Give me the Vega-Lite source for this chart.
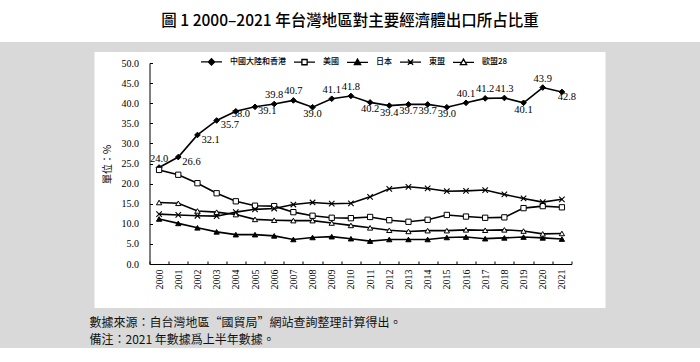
{
  "$schema": "https://vega.github.io/schema/vega-lite/v6.json",
  "background": "#d9d9d9",
  "padding": {"left": 0, "right": 0, "top": 0, "bottom": 2},
  "spacing": 10,
  "bounds": "flush",
  "center": true,
  "config": {
    "view": {"stroke": null},
    "axis": {"grid": false, "domainColor": "black", "tickColor": "black", "labelColor": "black", "titleColor": "black"}
  },
  "datasets": {
    "main": [
      {"y": "2000", "s": "中國大陸和香港", "v": 24.0}, {"y": "2001", "s": "中國大陸和香港", "v": 26.6}, {"y": "2002", "s": "中國大陸和香港", "v": 32.1}, {"y": "2003", "s": "中國大陸和香港", "v": 35.7}, {"y": "2004", "s": "中國大陸和香港", "v": 38.0}, {"y": "2005", "s": "中國大陸和香港", "v": 39.1}, {"y": "2006", "s": "中國大陸和香港", "v": 39.8}, {"y": "2007", "s": "中國大陸和香港", "v": 40.7}, {"y": "2008", "s": "中國大陸和香港", "v": 39.0}, {"y": "2009", "s": "中國大陸和香港", "v": 41.1}, {"y": "2010", "s": "中國大陸和香港", "v": 41.8}, {"y": "2011", "s": "中國大陸和香港", "v": 40.2}, {"y": "2012", "s": "中國大陸和香港", "v": 39.4}, {"y": "2013", "s": "中國大陸和香港", "v": 39.7}, {"y": "2014", "s": "中國大陸和香港", "v": 39.7}, {"y": "2015", "s": "中國大陸和香港", "v": 39.0}, {"y": "2016", "s": "中國大陸和香港", "v": 40.1}, {"y": "2017", "s": "中國大陸和香港", "v": 41.2}, {"y": "2018", "s": "中國大陸和香港", "v": 41.3}, {"y": "2019", "s": "中國大陸和香港", "v": 40.1}, {"y": "2020", "s": "中國大陸和香港", "v": 43.9}, {"y": "2021", "s": "中國大陸和香港", "v": 42.8},
      {"y": "2000", "s": "美國", "v": 23.4}, {"y": "2001", "s": "美國", "v": 22.2}, {"y": "2002", "s": "美國", "v": 20.1}, {"y": "2003", "s": "美國", "v": 17.6}, {"y": "2004", "s": "美國", "v": 15.6}, {"y": "2005", "s": "美國", "v": 14.5}, {"y": "2006", "s": "美國", "v": 14.4}, {"y": "2007", "s": "美國", "v": 12.9}, {"y": "2008", "s": "美國", "v": 12.0}, {"y": "2009", "s": "美國", "v": 11.5}, {"y": "2010", "s": "美國", "v": 11.4}, {"y": "2011", "s": "美國", "v": 11.7}, {"y": "2012", "s": "美國", "v": 10.9}, {"y": "2013", "s": "美國", "v": 10.5}, {"y": "2014", "s": "美國", "v": 11.0}, {"y": "2015", "s": "美國", "v": 12.2}, {"y": "2016", "s": "美國", "v": 11.8}, {"y": "2017", "s": "美國", "v": 11.5}, {"y": "2018", "s": "美國", "v": 11.6}, {"y": "2019", "s": "美國", "v": 13.9}, {"y": "2020", "s": "美國", "v": 14.4}, {"y": "2021", "s": "美國", "v": 14.1},
      {"y": "2000", "s": "日本", "v": 11.2}, {"y": "2001", "s": "日本", "v": 10.1}, {"y": "2002", "s": "日本", "v": 9.0}, {"y": "2003", "s": "日本", "v": 8.0}, {"y": "2004", "s": "日本", "v": 7.3}, {"y": "2005", "s": "日本", "v": 7.3}, {"y": "2006", "s": "日本", "v": 7.0}, {"y": "2007", "s": "日本", "v": 6.1}, {"y": "2008", "s": "日本", "v": 6.6}, {"y": "2009", "s": "日本", "v": 6.8}, {"y": "2010", "s": "日本", "v": 6.3}, {"y": "2011", "s": "日本", "v": 5.7}, {"y": "2012", "s": "日本", "v": 6.1}, {"y": "2013", "s": "日本", "v": 6.1}, {"y": "2014", "s": "日本", "v": 6.1}, {"y": "2015", "s": "日本", "v": 6.6}, {"y": "2016", "s": "日本", "v": 6.7}, {"y": "2017", "s": "日本", "v": 6.3}, {"y": "2018", "s": "日本", "v": 6.5}, {"y": "2019", "s": "日本", "v": 6.7}, {"y": "2020", "s": "日本", "v": 6.5}, {"y": "2021", "s": "日本", "v": 6.2},
      {"y": "2000", "s": "東盟", "v": 12.4}, {"y": "2001", "s": "東盟", "v": 12.2}, {"y": "2002", "s": "東盟", "v": 12.0}, {"y": "2003", "s": "東盟", "v": 11.9}, {"y": "2004", "s": "東盟", "v": 12.9}, {"y": "2005", "s": "東盟", "v": 13.6}, {"y": "2006", "s": "東盟", "v": 13.8}, {"y": "2007", "s": "東盟", "v": 14.8}, {"y": "2008", "s": "東盟", "v": 15.3}, {"y": "2009", "s": "東盟", "v": 15.0}, {"y": "2010", "s": "東盟", "v": 15.1}, {"y": "2011", "s": "東盟", "v": 16.7}, {"y": "2012", "s": "東盟", "v": 18.7}, {"y": "2013", "s": "東盟", "v": 19.2}, {"y": "2014", "s": "東盟", "v": 18.8}, {"y": "2015", "s": "東盟", "v": 18.1}, {"y": "2016", "s": "東盟", "v": 18.2}, {"y": "2017", "s": "東盟", "v": 18.4}, {"y": "2018", "s": "東盟", "v": 17.3}, {"y": "2019", "s": "東盟", "v": 16.3}, {"y": "2020", "s": "東盟", "v": 15.4}, {"y": "2021", "s": "東盟", "v": 16.1},
      {"y": "2000", "s": "歐盟28", "v": 15.3}, {"y": "2001", "s": "歐盟28", "v": 15.1}, {"y": "2002", "s": "歐盟28", "v": 13.2}, {"y": "2003", "s": "歐盟28", "v": 12.9}, {"y": "2004", "s": "歐盟28", "v": 12.3}, {"y": "2005", "s": "歐盟28", "v": 11.1}, {"y": "2006", "s": "歐盟28", "v": 10.9}, {"y": "2007", "s": "歐盟28", "v": 10.8}, {"y": "2008", "s": "歐盟28", "v": 10.8}, {"y": "2009", "s": "歐盟28", "v": 10.2}, {"y": "2010", "s": "歐盟28", "v": 9.6}, {"y": "2011", "s": "歐盟28", "v": 9.0}, {"y": "2012", "s": "歐盟28", "v": 8.4}, {"y": "2013", "s": "歐盟28", "v": 8.1}, {"y": "2014", "s": "歐盟28", "v": 8.3}, {"y": "2015", "s": "歐盟28", "v": 8.3}, {"y": "2016", "s": "歐盟28", "v": 8.5}, {"y": "2017", "s": "歐盟28", "v": 8.4}, {"y": "2018", "s": "歐盟28", "v": 8.5}, {"y": "2019", "s": "歐盟28", "v": 8.2}, {"y": "2020", "s": "歐盟28", "v": 7.5}, {"y": "2021", "s": "歐盟28", "v": 7.6}
    ]
  },
  "vconcat": [
    {
      "width": 700,
      "height": 42,
      "view": {"fill": "white", "stroke": null},
      "data": {"values": [{"t": "圖 1 2000–2021 年台灣地區對主要經濟體出口所占比重"}]},
      "mark": {"type": "text", "font": "Noto Sans CJK TC", "fontSize": 15.5, "fontWeight": 500, "color": "black"},
      "encoding": {"text": {"field": "t", "type": "nominal"}}
    },
    {
      "width": 511,
      "height": 256,
      "view": {"fill": "white", "stroke": null},
      "data": {"name": "main"},
      "title": {
        "text": ["數據來源：自台灣地區“國貿局”網站查詢整理計算得出。", "備注：2021 年數據爲上半年數據。"],
        "orient": "bottom", "anchor": "start", "font": "Noto Sans CJK TC", "fontSize": 12, "fontWeight": "normal",
        "lineHeight": 17, "offset": 10, "baseline": "top", "color": "#111111"
      },
      "encoding": {
        "x": {
          "field": "y", "type": "ordinal",
          "scale": {"type": "band", "range": [55, 477], "paddingInner": 0, "paddingOuter": 0},
          "axis": {
            "title": null, "labelAngle": -90, "labelAlign": "right", "labelBaseline": "middle",
            "labelFont": "Liberation Serif", "labelFontSize": 10, "tickBand": "extent",
            "tickSize": -3, "offset": -44, "labelPadding": 8
          }
        },
        "y": {
          "field": "v", "type": "quantitative",
          "scale": {"domain": [0, 50], "range": [212, 11], "nice": false, "zero": true},
          "axis": {
            "title": "單位：%", "values": [0, 5, 10, 15, 20, 25, 30, 35, 40, 45, 50], "format": ".1f",
            "tickSize": -3, "offset": -55, "labelPadding": 14,
            "labelFont": "Liberation Serif", "labelFontSize": 10,
            "titleFont": "Noto Sans CJK TC", "titleFontSize": 10, "titleFontWeight": "normal",
            "titleAngle": -90, "titleX": -42, "titleY": 112, "titleAlign": "center", "titleBaseline": "middle"
          }
        }
      },
      "layer": [
        {
          "mark": {"type": "line", "color": "black", "strokeWidth": 1.6},
          "encoding": {"detail": {"field": "s", "type": "nominal"}}
        },
        {
          "transform": [{"filter": {"field": "s", "equal": "中國大陸和香港"}}],
          "mark": {"type": "point", "shape": "diamond", "filled": true, "fill": "black", "stroke": "black", "strokeWidth": 1, "size": 32, "opacity": 1}
        },
        {
          "transform": [{"filter": {"field": "s", "equal": "美國"}}],
          "mark": {"type": "point", "shape": "square", "filled": true, "fill": "white", "stroke": "black", "strokeWidth": 1, "size": 28, "opacity": 1}
        },
        {
          "transform": [{"filter": {"field": "s", "equal": "日本"}}],
          "mark": {"type": "point", "shape": "triangle-up", "filled": true, "fill": "black", "stroke": "black", "strokeWidth": 1, "size": 28, "opacity": 1}
        },
        {
          "transform": [{"filter": {"field": "s", "equal": "東盟"}}],
          "mark": {"type": "point", "shape": "M-1,-1L1,1M-1,1L1,-1", "filled": false, "stroke": "black", "strokeWidth": 1.1, "size": 30, "opacity": 1}
        },
        {
          "transform": [{"filter": {"field": "s", "equal": "歐盟28"}}],
          "mark": {"type": "point", "shape": "triangle-up", "filled": true, "fill": "white", "stroke": "black", "strokeWidth": 1, "size": 28, "opacity": 1}
        },
        {
          "transform": [{"filter": "datum.v < 0"}],
          "mark": {"type": "point", "filled": true, "strokeWidth": 1.3, "size": 441, "opacity": 1},
          "encoding": {
            "shape": {
              "field": "s", "type": "nominal",
              "scale": {
                "domain": ["中國大陸和香港", "美國", "日本", "東盟", "歐盟28"],
                "range": [
                  "M-1,0H1M0,-0.3L0.3,0L0,0.3L-0.3,0Z",
                  "M-1,0H-0.25M0.25,0H1M-0.25,-0.25H0.25V0.25H-0.25Z",
                  "M-1,0H1M0,-0.3L0.3,0.22L-0.3,0.22Z",
                  "M-1,0H1M-0.25,-0.25L0.25,0.25M-0.25,0.25L0.25,-0.25",
                  "M-1,0H-0.17M0.17,0H1M0,-0.3L0.3,0.22L-0.3,0.22Z"
                ]
              },
              "legend": {
                "title": null, "orient": "none", "legendX": 200, "legendY": 50, "direction": "horizontal", "padding": 0,
                "labelFont": "Noto Sans CJK TC", "labelFontSize": 8, "labelFontWeight": 500, "labelColor": "black",
                "labelOffset": 7, "columnPadding": 5, "symbolSize": 441, "symbolStrokeWidth": 1.3
              }
            },
            "fill": {
              "field": "s", "type": "nominal",
              "scale": {"domain": ["中國大陸和香港", "美國", "日本", "東盟", "歐盟28"], "range": ["black", "white", "black", "white", "white"]},
              "legend": {
                "title": null, "orient": "none", "legendX": 200, "legendY": 50, "direction": "horizontal", "padding": 0,
                "labelFont": "Noto Sans CJK TC", "labelFontSize": 8, "labelFontWeight": 500, "labelColor": "black",
                "labelOffset": 7, "columnPadding": 5, "symbolSize": 441, "symbolStrokeWidth": 1.3
              }
            },
            "stroke": {
              "field": "s", "type": "nominal",
              "scale": {"domain": ["中國大陸和香港", "美國", "日本", "東盟", "歐盟28"], "range": ["black", "black", "black", "black", "black"]},
              "legend": {
                "title": null, "orient": "none", "legendX": 200, "legendY": 50, "direction": "horizontal", "padding": 0,
                "labelFont": "Noto Sans CJK TC", "labelFontSize": 8, "labelFontWeight": 500, "labelColor": "black",
                "labelOffset": 7, "columnPadding": 5, "symbolSize": 441, "symbolStrokeWidth": 1.3
              }
            }
          }
        },
        {
          "transform": [{"filter": {"field": "s", "equal": "中國大陸和香港"}}, {"filter": {"field": "y", "oneOf": ["2000", "2006", "2007", "2009", "2010", "2016", "2017", "2018", "2020"]}}],
          "mark": {"type": "text", "font": "Liberation Serif", "fontSize": 10.5, "color": "black", "baseline": "bottom", "dy": -4},
          "encoding": {"text": {"field": "v", "type": "quantitative", "format": ".1f"}}
        },
        {
          "transform": [{"filter": {"field": "s", "equal": "中國大陸和香港"}}, {"filter": {"field": "y", "oneOf": ["2008", "2011", "2012", "2013", "2014", "2015", "2019"]}}],
          "mark": {"type": "text", "font": "Liberation Serif", "fontSize": 10.5, "color": "black", "baseline": "top", "dy": 2},
          "encoding": {"text": {"field": "v", "type": "quantitative", "format": ".1f"}}
        },
        {
          "transform": [{"filter": {"field": "s", "equal": "中國大陸和香港"}}, {"filter": {"field": "y", "oneOf": ["2004"]}}],
          "mark": {"type": "text", "font": "Liberation Serif", "fontSize": 10.5, "color": "black", "baseline": "top", "dx": 5, "dy": -2},
          "encoding": {"text": {"field": "v", "type": "quantitative", "format": ".1f"}}
        },
        {
          "transform": [{"filter": {"field": "s", "equal": "中國大陸和香港"}}, {"filter": {"field": "y", "oneOf": ["2001", "2002", "2003"]}}],
          "mark": {"type": "text", "font": "Liberation Serif", "fontSize": 10.5, "color": "black", "align": "left", "baseline": "middle", "dx": 4, "dy": 5},
          "encoding": {"text": {"field": "v", "type": "quantitative", "format": ".1f"}}
        },
        {
          "transform": [{"filter": {"field": "s", "equal": "中國大陸和香港"}}, {"filter": {"field": "y", "oneOf": ["2005"]}}],
          "mark": {"type": "text", "font": "Liberation Serif", "fontSize": 10.5, "color": "black", "align": "left", "baseline": "top", "dx": 3, "dy": -1},
          "encoding": {"text": {"field": "v", "type": "quantitative", "format": ".1f"}}
        },
        {
          "transform": [{"filter": {"field": "s", "equal": "中國大陸和香港"}}, {"filter": {"field": "y", "oneOf": ["2021"]}}],
          "mark": {"type": "text", "font": "Liberation Serif", "fontSize": 10.5, "color": "black", "align": "center", "baseline": "top", "dx": 5, "dy": 0},
          "encoding": {"text": {"field": "v", "type": "quantitative", "format": ".1f"}}
        }
      ]
    }
  ]
}
